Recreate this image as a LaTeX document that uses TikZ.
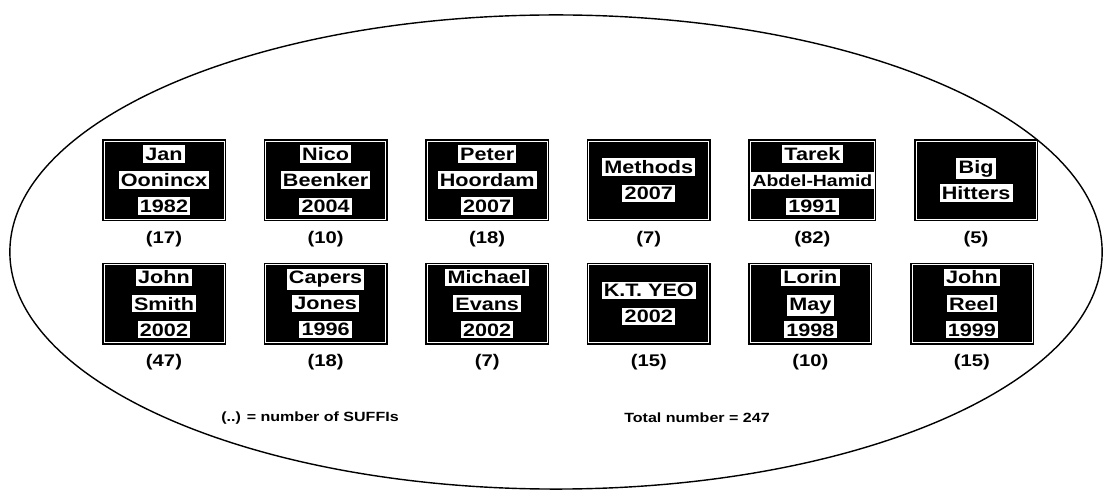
\documentclass[tikz,border=0pt]{standalone}
\usepackage{fontspec}
\setmainfont{Liberation Sans}[FakeStretch=1.2]
\usetikzlibrary{positioning}
\newcommand{\patch}[1]{\colorbox{white}{#1}}
\tikzset{
	card/.style={rectangle, fill=black, draw=black, line width=1.1pt, double=white, double distance=0.6pt, minimum width=3cm, minimum height=1.95cm, inner sep=0pt, align=center, font=\bfseries\fontsize{12.8}{18.5}\selectfont},
	tally/.style={inner sep=1pt, font=\bfseries\fontsize{12}{14}\selectfont},
	note/.style={inner sep=1pt, font=\bfseries\fontsize{9.5}{11}\selectfont}
}

\begin{document}
\begin{tikzpicture}[x=0.025cm, y=-0.025cm, node distance=1cm]
	\setlength{\fboxsep}{1.6pt}
	\useasboundingbox (0,0) rectangle (1104,497);
	
	% Ellipse round all authors
	\draw [line width=1pt] (556,252) ellipse [x radius=13.65cm, y radius=5.925cm];
	
	% First row
	\node (jan) [card] at (164,180) {\patch{Jan}\\\patch{Oonincx}\\\patch{1982}};
	\node (nico) [card, right=of jan] {\patch{Nico}\\\patch{Beenker}\\\patch{2004}};
	\node (peter) [card, right=of nico] {\patch{Peter}\\\patch{Hoordam}\\\patch{2007}};
	\node (methods) [card, right=of peter] {\patch{Methods}\\\patch{2007}};
	\node (tarek) [card, right=of methods] {\patch{Tarek}\\\patch{\fontsize{11.5}{14}\selectfont Abdel-Hamid}\\\patch{1991}};
	\node (hitters) [card, right=of tarek] {\patch{Big}\\\patch{Hitters}};
	
	% Second row
	\node (smith) [card, below=1.1cm of jan] {\patch{John}\\\patch{Smith}\\\patch{2002}};
	\node (capers) [card, right=of smith] {\patch{Capers}\\\patch{Jones}\\\patch{1996}};
	\node (evans) [card, right=of capers] {\patch{Michael}\\\patch{Evans}\\\patch{2002}};
	\node (yeo) [card, right=of evans] {\patch{K.T. YEO}\\\patch{2002}};
	\node (lorin) [card, right=of yeo] {\patch{Lorin}\\\patch{May}\\\patch{1998}};
	\node (reel) [card, right=of lorin] {\patch{John}\\\patch{Reel}\\\patch{1999}};
	
	% Number of SUFFIs under each card
	\node (njan) [tally, below=0.25cm of jan] {(17)};
	\node (nnico) [tally, below=0.25cm of nico] {(10)};
	\node (npeter) [tally, below=0.25cm of peter] {(18)};
	\node (nmethods) [tally, below=0.25cm of methods] {(7)};
	\node (ntarek) [tally, below=0.25cm of tarek] {(82)};
	\node (nhitters) [tally, below=0.25cm of hitters] {(5)};
	\node (nsmith) [tally, below=0.22cm of smith] {(47)};
	\node (ncapers) [tally, below=0.22cm of capers] {(18)};
	\node (nevans) [tally, below=0.22cm of evans] {(7)};
	\node (nyeo) [tally, below=0.22cm of yeo] {(15)};
	\node (nlorin) [tally, below=0.22cm of lorin] {(10)};
	\node (nreel) [tally, below=0.22cm of reel] {(15)};
	
	% Legend and total
	\node (legend) [note] at (310,418) {(..) = number of SUFFIs};
	\node (total) [note] at (697,418) {Total number = 247};
\end{tikzpicture}
\end{document}
